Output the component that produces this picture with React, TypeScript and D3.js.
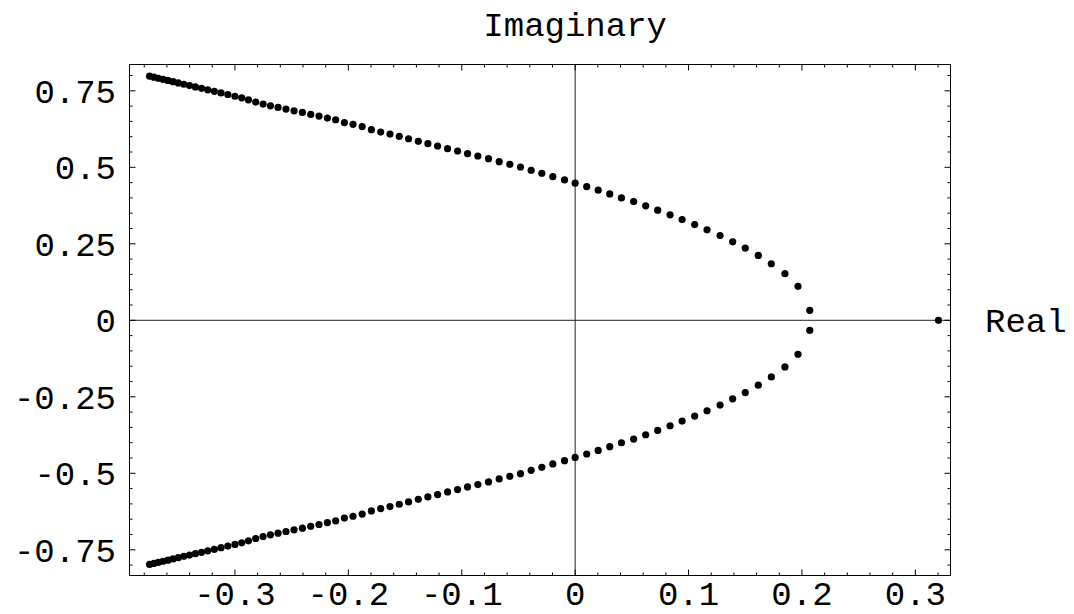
import React, { useRef, useEffect } from "react";
import * as d3 from "d3";

// upper branch
const upperRe = [
  -0.3753, -0.3715, -0.3676, -0.3634, -0.3591, -0.3546, -0.35, -0.3451, -0.3401, -0.3349,
  -0.3295, -0.324, -0.3182, -0.3123, -0.3063, -0.3, -0.294, -0.2881, -0.2817, -0.2752,
  -0.2687, -0.262, -0.255, -0.2479, -0.2405, -0.2332, -0.2259, -0.2185, -0.2112, -0.2035,
  -0.1959, -0.1878, -0.1797, -0.1715, -0.1633, -0.1551, -0.1469, -0.1383, -0.1299, -0.1213,
  -0.1125, -0.1037, -0.0949, -0.0858, -0.0764, -0.067, -0.0576, -0.0482, -0.0388, -0.0294,
  -0.0197, -0.0094, 0.0, 0.0102, 0.0203, 0.0305, 0.0408, 0.0516, 0.0622, 0.0728,
  0.0837, 0.0943, 0.1054, 0.1163, 0.1278, 0.1389, 0.15, 0.1615, 0.173, 0.185,
  0.1965, 0.2069,
];
const upperIm = [
  0.7978, 0.7946, 0.791, 0.7874, 0.7838, 0.7799, 0.7757, 0.7714, 0.7672, 0.7626,
  0.7581, 0.7532, 0.7483, 0.7431, 0.7379, 0.7323, 0.7271, 0.7206, 0.7131, 0.7066,
  0.701, 0.6958, 0.6902, 0.6847, 0.6795, 0.673, 0.6674, 0.6609, 0.6554, 0.6462,
  0.6404, 0.6332, 0.6229, 0.6153, 0.6087, 0.6012, 0.5934, 0.5849, 0.5771, 0.5696,
  0.5608, 0.5533, 0.5445, 0.537, 0.5282, 0.5184, 0.5099, 0.5011, 0.4904, 0.4806,
  0.4695, 0.4588, 0.448, 0.4369, 0.4252, 0.4131, 0.4001, 0.388, 0.374, 0.36,
  0.3446, 0.3293, 0.313, 0.2957, 0.2771, 0.2566, 0.2361, 0.2119, 0.1849, 0.1523,
  0.1109, 0.0326,
];
// lower branch (conjugates)
const lowerRe = upperRe.slice();
const lowerIm = [
  -0.7978, -0.7946, -0.791, -0.7874, -0.7838, -0.7799, -0.7757, -0.7714, -0.7672, -0.7626,
  -0.7581, -0.7532, -0.7483, -0.7431, -0.7379, -0.7323, -0.7271, -0.7206, -0.7131, -0.7066,
  -0.701, -0.6958, -0.6902, -0.6847, -0.6795, -0.673, -0.6674, -0.6609, -0.6554, -0.6462,
  -0.6404, -0.6332, -0.6229, -0.6153, -0.6087, -0.6012, -0.5934, -0.5849, -0.5771, -0.5696,
  -0.5608, -0.5533, -0.5445, -0.537, -0.5282, -0.5184, -0.5099, -0.5011, -0.4904, -0.4806,
  -0.4695, -0.4588, -0.448, -0.4369, -0.4252, -0.4131, -0.4001, -0.388, -0.374, -0.36,
  -0.3446, -0.3293, -0.313, -0.2957, -0.2771, -0.2566, -0.2361, -0.2119, -0.1849, -0.1523,
  -0.1109, -0.0326,
];
// the lone real root
const realRe = [0.3204];
const realIm = [0];

const xTicks = [-0.3, -0.2, -0.1, 0, 0.1, 0.2, 0.3];
const xTickLabels = ["-0.3", "-0.2", "-0.1", "0", "0.1", "0.2", "0.3"];
const yTicks = [-0.75, -0.5, -0.25, 0, 0.25, 0.5, 0.75];
const yTickLabels = ["-0.75", "-0.5", "-0.25", "0", "0.25", "0.5", "0.75"];

const W = 1074;
const H = 614;
const FONT = "'Liberation Mono', 'Courier New', monospace";

const App: React.FC = () => {
  const ref = useRef<SVGSVGElement | null>(null);

  useEffect(() => {
    document.body.style.margin = "0";
    const svg = d3.select(ref.current);
    svg.selectAll("*").remove();

    const x = d3.scaleLinear().domain([-0.393, 0.331]).range([129.5, 950.5]);
    const y = d3.scaleLinear().domain([-0.834, 0.836]).range([575.5, 64.5]);
    const [x0, x1] = x.range();
    const [y0, y1] = y.range();

    const g = svg.append("g");

    // axes through origin
    g.append("line")
      .attr("x1", x0).attr("x2", x1)
      .attr("y1", y(0)).attr("y2", y(0))
      .attr("stroke", "#222").attr("stroke-width", 1);
    g.append("line")
      .attr("x1", x(0)).attr("x2", x(0))
      .attr("y1", y0).attr("y2", y1)
      .attr("stroke", "#222").attr("stroke-width", 1);

    // frame
    g.append("rect")
      .attr("x", x0).attr("y", y1)
      .attr("width", x1 - x0).attr("height", y0 - y1)
      .attr("fill", "none").attr("stroke", "#000").attr("stroke-width", 1);

    // ticks on all four sides, pointing inward
    const xMinor = d3.range(-0.38, 0.33, 0.02).map((v) => +v.toFixed(2));
    const yMinor = d3.range(-0.8, 0.81, 0.05).map((v) => +v.toFixed(2));
    const isMajorX = (v: number) => xTicks.some((t) => Math.abs(t - v) < 1e-6);
    const isMajorY = (v: number) => yTicks.some((t) => Math.abs(t - v) < 1e-6);

    xMinor.forEach((v) => {
      const len = isMajorX(v) ? 6 : 3;
      g.append("line").attr("x1", x(v)).attr("x2", x(v))
        .attr("y1", y0).attr("y2", y0 - len).attr("stroke", "#000");
      g.append("line").attr("x1", x(v)).attr("x2", x(v))
        .attr("y1", y1).attr("y2", y1 + len).attr("stroke", "#000");
    });
    yMinor.forEach((v) => {
      const len = isMajorY(v) ? 6 : 3;
      g.append("line").attr("y1", y(v)).attr("y2", y(v))
        .attr("x1", x0).attr("x2", x0 + len).attr("stroke", "#000");
      g.append("line").attr("y1", y(v)).attr("y2", y(v))
        .attr("x1", x1).attr("x2", x1 - len).attr("stroke", "#000");
    });

    // tick labels
    g.selectAll("text.xl")
      .data(xTicks)
      .enter()
      .append("text")
      .attr("x", (d) => x(d))
      .attr("y", 605)
      .attr("text-anchor", "middle")
      .attr("font-family", FONT)
      .attr("font-size", 34)
      .attr("fill", "#000")
      .text((d, i) => xTickLabels[i]);

    g.selectAll("text.yl")
      .data(yTicks)
      .enter()
      .append("text")
      .attr("x", 116)
      .attr("y", (d) => y(d))
      .attr("dy", "0.35em")
      .attr("text-anchor", "end")
      .attr("font-family", FONT)
      .attr("font-size", 34)
      .attr("fill", "#000")
      .text((d, i) => yTickLabels[i]);

    // axis labels
    g.append("text")
      .attr("x", x(0))
      .attr("y", 36)
      .attr("text-anchor", "middle")
      .attr("font-family", FONT)
      .attr("font-size", 34)
      .text("Imaginary");
    g.append("text")
      .attr("x", 985)
      .attr("y", y(0))
      .attr("dy", "0.35em")
      .attr("font-family", FONT)
      .attr("font-size", 34)
      .text("Real");

    // points
    const pts: [number, number][] = [
      ...upperRe.map((r, i) => [r, upperIm[i]] as [number, number]),
      ...lowerRe.map((r, i) => [r, lowerIm[i]] as [number, number]),
      ...realRe.map((r, i) => [r, realIm[i]] as [number, number]),
    ];
    g.selectAll("circle")
      .data(pts)
      .enter()
      .append("circle")
      .attr("cx", (d) => x(d[0]))
      .attr("cy", (d) => y(d[1]))
      .attr("r", 3.6)
      .attr("fill", "#000");
  }, []);

  return <svg ref={ref} width={W} height={H} style={{ display: "block", background: "#fff" }} />;
};

export default App;
